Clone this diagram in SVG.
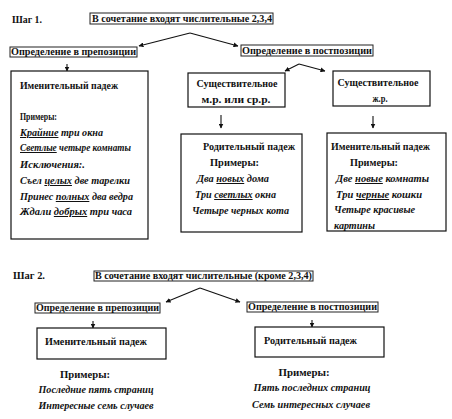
<svg xmlns="http://www.w3.org/2000/svg" width="452" height="419" viewBox="0 0 452 419" font-family="'Liberation Serif', 'DejaVu Serif', serif">
<defs>
<marker id="ah" viewBox="0 0 10 10" refX="9" refY="5" markerWidth="5" markerHeight="5" orient="auto" markerUnits="userSpaceOnUse">
<path d="M0,0 L10,5 L0,10 z" fill="#111"/>
</marker>
<style>
text{font-family:'Liberation Serif','DejaVu Serif',serif;font-size:10px;fill:#111}
.b{font-weight:bold}
.i{font-style:italic;font-weight:bold}
.u{text-decoration:underline}
.box{fill:#fff;stroke:#111;stroke-width:1.2}
.hbox{fill:#fff;stroke:#222;stroke-width:1}
.c{fill:none;stroke:#111;stroke-width:1.1;marker-end:url(#ah)}
</style>
</defs>
<rect width="452" height="419" fill="#fff"/>

<g id="connectors">
<line class="c" x1="190" y1="33" x2="139" y2="46"/>
<line class="c" x1="190" y1="33" x2="238" y2="46"/>
<line class="c" x1="67" y1="64" x2="67" y2="71"/>
<line class="c" x1="299" y1="64" x2="285" y2="71"/>
<line class="c" x1="299" y1="64" x2="325" y2="71"/>
<line class="c" x1="221" y1="115" x2="221" y2="128"/>
<line class="c" x1="373" y1="116" x2="373" y2="128"/>
<line class="c" x1="200" y1="288" x2="166" y2="302"/>
<line class="c" x1="200" y1="288" x2="240" y2="302"/>
<line class="c" x1="93" y1="321" x2="93" y2="328"/>
<line class="c" x1="312" y1="320" x2="312" y2="327"/>
</g>

<g id="step1-label"><text class="b" x="12" y="23" textLength="30" lengthAdjust="spacingAndGlyphs">Шаг 1.</text></g>

<g id="step1-header">
<rect class="hbox" x="90" y="13" width="183" height="11"/>
<text class="b" x="92" y="22" textLength="180" lengthAdjust="spacingAndGlyphs">В сочетание входят числительные 2,3,4</text>
</g>

<g id="step1-pre">
<rect class="hbox" x="10" y="47" width="127" height="10"/>
<text class="b" x="11" y="55" textLength="125" lengthAdjust="spacingAndGlyphs">Определение в препозиции</text>
</g>

<g id="step1-post">
<rect class="hbox" x="241" y="45" width="132" height="11"/>
<text class="b" x="242" y="54" textLength="130" lengthAdjust="spacingAndGlyphs">Определение в постпозиции</text>
</g>

<g id="step1-nom">
<rect class="box" x="11" y="71" width="137" height="168"/>
<text class="b" x="20" y="89" textLength="98" lengthAdjust="spacingAndGlyphs">Именительный падеж</text>
<text class="b" x="20" y="120" textLength="37" lengthAdjust="spacingAndGlyphs">Примеры:</text>
<text class="i" x="20" y="136" textLength="83" lengthAdjust="spacingAndGlyphs"><tspan class="u">Крайние</tspan> три окна</text>
<text class="i" x="20" y="151" textLength="111" lengthAdjust="spacingAndGlyphs"><tspan class="u">Светлые</tspan> четыре комнаты</text>
<text class="i" x="20" y="168" textLength="65" lengthAdjust="spacingAndGlyphs">Исключения:.</text>
<text class="i" x="20" y="184" textLength="110" lengthAdjust="spacingAndGlyphs">Съел <tspan class="u">целых</tspan> две тарелки</text>
<text class="i" x="20" y="200" textLength="113" lengthAdjust="spacingAndGlyphs">Принес <tspan class="u">полных</tspan> два ведра</text>
<text class="i" x="20" y="215" textLength="112" lengthAdjust="spacingAndGlyphs">Ждали <tspan class="u">добрых</tspan> три часа</text>
</g>

<g id="step1-masc">
<rect class="box" x="188" y="73" width="97" height="34"/>
<text class="b" x="237" y="87" text-anchor="middle" textLength="81" lengthAdjust="spacingAndGlyphs">Существительное</text>
<text class="b" x="236" y="103" text-anchor="middle" textLength="69" lengthAdjust="spacingAndGlyphs">м.р. или ср.р.</text>
</g>

<g id="step1-fem">
<rect class="box" x="333" y="71" width="97" height="35"/>
<text class="b" x="378" y="86" text-anchor="middle" textLength="81" lengthAdjust="spacingAndGlyphs">Существительное</text>
<text class="b" x="380" y="102" text-anchor="middle" textLength="15" lengthAdjust="spacingAndGlyphs">ж.р.</text>
</g>

<g id="step1-gen">
<rect class="box" x="181" y="134" width="121" height="98"/>
<text class="b" x="203" y="150" textLength="92" lengthAdjust="spacingAndGlyphs">Родительный падеж</text>
<text class="b" x="210" y="166" textLength="49" lengthAdjust="spacingAndGlyphs">Примеры:</text>
<text class="i" x="197" y="182" textLength="72" lengthAdjust="spacingAndGlyphs">Два <tspan class="u">новых</tspan> дома</text>
<text class="i" x="195" y="198" textLength="81" lengthAdjust="spacingAndGlyphs">Три <tspan class="u">светлых</tspan> окна</text>
<text class="i" x="192" y="214" textLength="97" lengthAdjust="spacingAndGlyphs">Четыре черных кота</text>
</g>

<g id="step1-nom2">
<rect class="box" x="327" y="133" width="119" height="98"/>
<text class="b" x="331" y="150" textLength="99" lengthAdjust="spacingAndGlyphs">Именительный падеж</text>
<text class="b" x="350" y="166" textLength="48" lengthAdjust="spacingAndGlyphs">Примеры:</text>
<text class="i" x="336" y="182" textLength="93" lengthAdjust="spacingAndGlyphs">Две <tspan class="u">новые</tspan> комнаты</text>
<text class="i" x="336" y="198" textLength="86" lengthAdjust="spacingAndGlyphs">Три <tspan class="u">черные</tspan> кошки</text>
<text class="i" x="334" y="213" textLength="81" lengthAdjust="spacingAndGlyphs">Четыре красивые</text>
<text class="i" x="334" y="229" textLength="41" lengthAdjust="spacingAndGlyphs">картины</text>
</g>

<g id="step2-label"><text class="b" x="13" y="279" textLength="32" lengthAdjust="spacingAndGlyphs">Шаг 2.</text></g>

<g id="step2-header">
<rect class="hbox" x="94" y="271" width="219" height="10"/>
<text class="b" x="95" y="279" textLength="217" lengthAdjust="spacingAndGlyphs">В сочетание входят числительные (кроме 2,3,4)</text>
</g>

<g id="step2-pre">
<rect class="hbox" x="35" y="303" width="125" height="10"/>
<text class="b" x="36" y="311" textLength="123" lengthAdjust="spacingAndGlyphs">Определение в препозиции</text>
</g>

<g id="step2-post">
<rect class="hbox" x="247" y="302" width="131" height="10"/>
<text class="b" x="248" y="310" textLength="129" lengthAdjust="spacingAndGlyphs">Определение в постпозиции</text>
</g>

<g id="step2-nom">
<rect class="box" x="37" y="328" width="129" height="31"/>
<text class="b" x="45" y="345" textLength="102" lengthAdjust="spacingAndGlyphs">Именительный падеж</text>
</g>

<g id="step2-nom-examples">
<text class="b" x="85" y="378" text-anchor="middle" textLength="50" lengthAdjust="spacingAndGlyphs">Примеры:</text>
<text class="i" x="96" y="393" text-anchor="middle" textLength="115" lengthAdjust="spacingAndGlyphs">Последние пять страниц</text>
<text class="i" x="96" y="409" text-anchor="middle" textLength="115" lengthAdjust="spacingAndGlyphs">Интересные семь случаев</text>
</g>

<g id="step2-gen">
<rect class="box" x="255" y="327" width="129" height="30"/>
<text class="b" x="264" y="344" textLength="93" lengthAdjust="spacingAndGlyphs">Родительный падеж</text>
</g>

<g id="step2-gen-examples">
<text class="b" x="304" y="376" text-anchor="middle" textLength="51" lengthAdjust="spacingAndGlyphs">Примеры:</text>
<text class="i" x="312" y="391" text-anchor="middle" textLength="117" lengthAdjust="spacingAndGlyphs">Пять последних страниц</text>
<text class="i" x="311" y="408" text-anchor="middle" textLength="118" lengthAdjust="spacingAndGlyphs">Семь интересных случаев</text>
</g>
</svg>
